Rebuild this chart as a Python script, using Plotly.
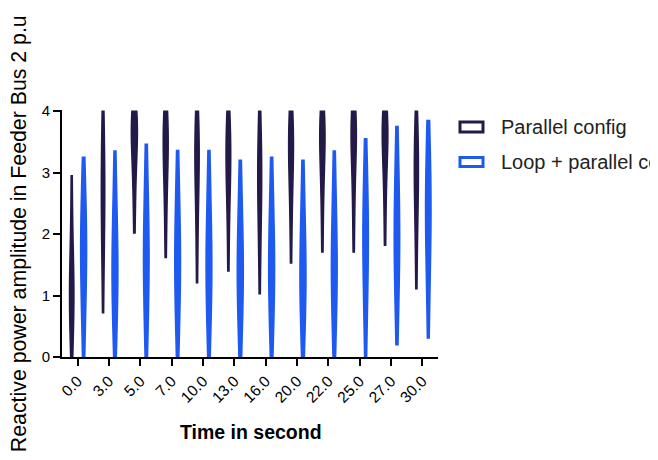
import plotly.graph_objects as go

categories = ["0.0", "3.0", "5.0", "7.0", "10.0", "13.0", "16.0", "20.0", "22.0", "25.0", "27.0", "30.0"]

# Estimated sample values per time point (read from violin extents / widest parts)
parallel_values = [
    [0.0, 0.3, 0.55, 0.75, 0.9, 1.05, 1.2, 1.35, 1.55, 1.85, 2.3, 2.95],
    [0.72, 1.3, 1.75, 2.05, 2.3, 2.5, 2.7, 2.9, 3.15, 3.4, 3.7, 4.0],
    [2.02, 2.5, 2.85, 3.1, 3.3, 3.45, 3.6, 3.7, 3.8, 3.88, 3.95, 4.0],
    [1.62, 2.15, 2.55, 2.85, 3.05, 3.25, 3.4, 3.55, 3.65, 3.78, 3.9, 4.0],
    [1.21, 1.8, 2.25, 2.6, 2.85, 3.05, 3.2, 3.35, 3.5, 3.65, 3.82, 4.0],
    [1.40, 1.95, 2.4, 2.7, 2.9, 3.05, 3.2, 3.35, 3.5, 3.65, 3.82, 4.0],
    [1.03, 1.6, 2.0, 2.3, 2.55, 2.75, 2.9, 3.05, 3.25, 3.45, 3.7, 4.0],
    [1.53, 2.1, 2.5, 2.8, 3.0, 3.2, 3.35, 3.5, 3.62, 3.75, 3.88, 4.0],
    [1.71, 2.25, 2.65, 2.95, 3.15, 3.35, 3.5, 3.62, 3.72, 3.82, 3.92, 4.0],
    [1.71, 2.25, 2.65, 2.95, 3.2, 3.4, 3.55, 3.65, 3.75, 3.85, 3.93, 4.0],
    [1.82, 2.35, 2.75, 3.05, 3.25, 3.42, 3.56, 3.68, 3.78, 3.86, 3.94, 4.0],
    [1.11, 1.7, 2.1, 2.4, 2.65, 2.85, 3.0, 3.15, 3.3, 3.5, 3.72, 4.0],
]

loop_values = [
    [0.0, 0.5, 0.85, 1.15, 1.4, 1.6, 1.8, 2.0, 2.2, 2.45, 2.8, 3.25],
    [0.0, 0.4, 0.75, 1.0, 1.2, 1.4, 1.6, 1.8, 2.05, 2.35, 2.8, 3.35],
    [0.0, 0.45, 0.8, 1.1, 1.35, 1.55, 1.75, 1.95, 2.2, 2.5, 2.95, 3.46],
    [0.0, 0.45, 0.8, 1.05, 1.3, 1.5, 1.7, 1.9, 2.15, 2.45, 2.85, 3.36],
    [0.0, 0.42, 0.78, 1.02, 1.25, 1.45, 1.65, 1.85, 2.1, 2.4, 2.85, 3.36],
    [0.0, 0.4, 0.72, 0.98, 1.2, 1.38, 1.56, 1.76, 2.0, 2.3, 2.72, 3.2],
    [0.0, 0.42, 0.75, 1.0, 1.22, 1.42, 1.6, 1.8, 2.05, 2.35, 2.76, 3.25],
    [0.0, 0.38, 0.7, 0.95, 1.15, 1.33, 1.52, 1.72, 1.97, 2.28, 2.7, 3.2],
    [0.0, 0.42, 0.76, 1.02, 1.24, 1.44, 1.63, 1.84, 2.1, 2.4, 2.84, 3.35],
    [0.0, 0.55, 0.95, 1.3, 1.55, 1.78, 1.98, 2.18, 2.42, 2.7, 3.08, 3.55],
    [0.2, 0.75, 1.12, 1.42, 1.66, 1.87, 2.07, 2.3, 2.55, 2.85, 3.25, 3.75],
    [0.31, 0.9, 1.35, 1.7, 1.98, 2.2, 2.4, 2.6, 2.85, 3.12, 3.45, 3.85],
]

series_names = ["Parallel config", "Loop + parallel config"]
series_colors = ["#231a4a", "#1f5af0"]
x_title = "<b>Time in second</b>"
y_title = "Reactive power amplitude in Feeder Bus 2 p.u"


def flatten(values):
    xs, ys = [], []
    for cat, vals in zip(categories, values):
        xs.extend([cat] * len(vals))
        ys.extend(vals)
    return xs, ys


fig = go.Figure()
for name, color, values in zip(series_names, series_colors, [parallel_values, loop_values]):
    xs, ys = flatten(values)
    fig.add_trace(go.Violin(
        x=xs, y=ys, name=name, showlegend=False,
        line=dict(color=color, width=1.6),
        fillcolor=color,
        points=False, spanmode="hard", scalemode="width",
        box_visible=False, meanline_visible=False,
        hoveron="violins",
    ))

font_family = "Arial, Liberation Sans, Helvetica, sans-serif"

# Legend drawn Prism-style: hollow wide rectangles + labels (paper coordinates)
legend_rows_y = [(0.911, 0.951, 0.931), (0.771, 0.808, 0.789)]
shapes = []
annotations = []
for name, color, (y0, y1, ty) in zip(series_names, series_colors, legend_rows_y):
    shapes.append(dict(type="rect", xref="paper", yref="paper",
                       x0=1.0585, x1=1.1197, y0=y0, y1=y1,
                       line=dict(color=color, width=3), fillcolor="white", layer="above"))
    annotations.append(dict(text=name, xref="paper", yref="paper", x=1.162, y=ty,
                            xanchor="left", yanchor="middle", showarrow=False,
                            font=dict(size=20, color="#222222")))

annotations.append(dict(text=y_title, xref="paper", yref="paper", x=-0.114, y=0.498,
                        xanchor="center", yanchor="middle", textangle=-90, showarrow=False,
                        font=dict(size=21.3, color="black")))
annotations.append(dict(text=x_title, xref="paper", yref="paper", x=0.503, y=-0.304,
                        xanchor="center", yanchor="middle", showarrow=False,
                        font=dict(size=19.5, color="black")))

fig.update_layout(
    width=658, height=460,
    paper_bgcolor="white", plot_bgcolor="white",
    margin=dict(l=54, r=228, t=102, b=111),
    violinmode="group", violingap=0.24, violingroupgap=0.5,
    font=dict(family=font_family, color="black", size=15),
    showlegend=False,
    shapes=shapes,
    annotations=annotations,
)

fig.update_xaxes(
    type="category", categoryorder="array", categoryarray=categories,
    automargin=False,
    showline=True, linecolor="black", linewidth=2,
    ticks="outside", ticklen=7, tickwidth=2, tickcolor="black",
    tickangle=-45, tickfont=dict(size=15.5, color="black"),
    showgrid=False, zeroline=False,
)

fig.update_yaxes(
    range=[0, 4.02], tickvals=[0, 1, 2, 3, 4], ticktext=["0", "1", "2", "3", "4"],
    automargin=False,
    showline=True, linecolor="black", linewidth=2,
    ticks="outside", ticklen=7, tickwidth=2, tickcolor="black",
    tickfont=dict(size=15, color="black"),
    showgrid=False, zeroline=False,
)

fig.write_html("out.html")
